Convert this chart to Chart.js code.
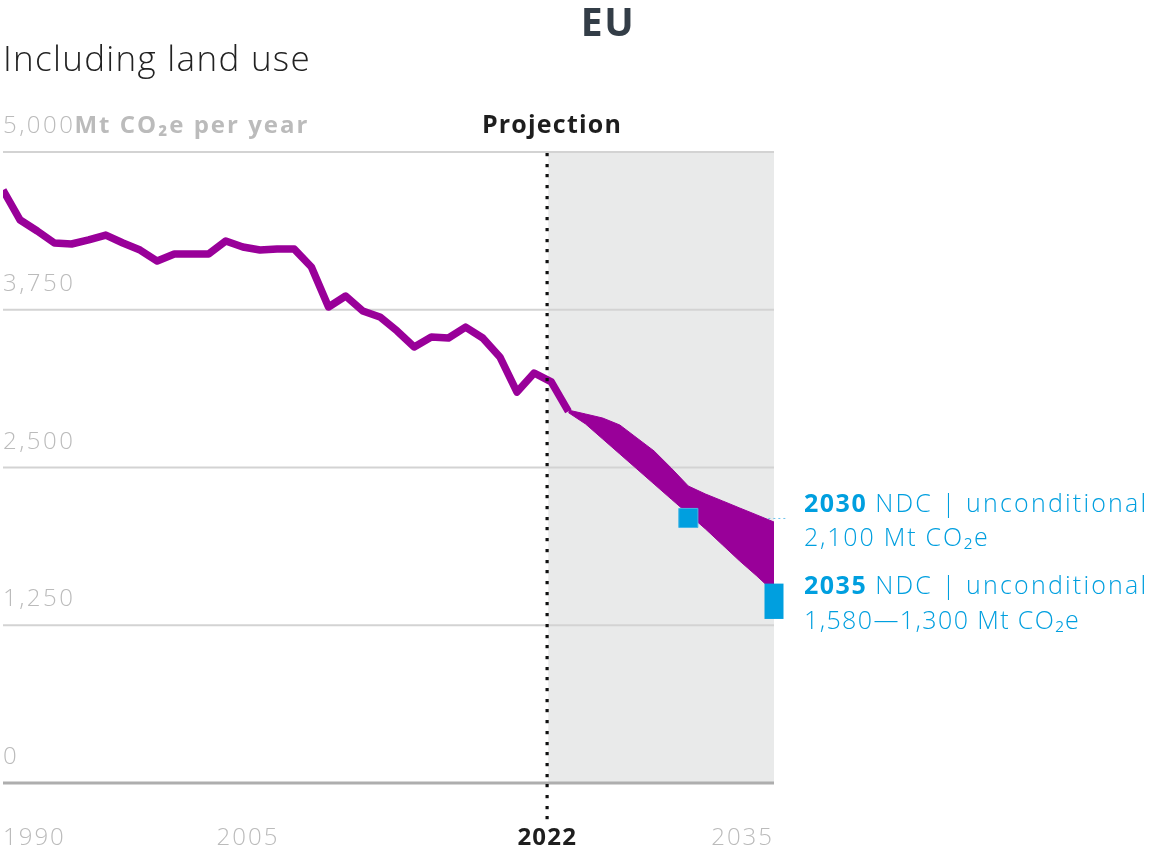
<!DOCTYPE html>
<html><head><meta charset="utf-8">
<script src="https://cdn.jsdelivr.net/npm/chart.js@4"></script>
<style>html,body{margin:0;padding:0;background:#fff}#wrap{width:1155px;height:851px;position:relative}</style>
</head><body><div id="wrap"><canvas id="c" width="1155" height="851"></canvas></div>
<script>
const histYears = [1990,1991,1992,1993,1994,1995,1996,1997,1998,1999,2000,2001,2002,2003,2004,2005,2006,2007,2008,2009,2010,2011,2012,2013,2014,2015,2016,2017,2018,2019,2020,2021,2022,2023];
const histValues = [4699,4461,4374,4279,4271,4303,4342,4279,4223,4136,4192,4192,4192,4295,4247,4223,4231,4231,4089,3772,3859,3740,3693,3582,3455,3534,3526,3613,3526,3376,3098,3249,3178,2945];
const projYears = [2023,2024,2025,2026,2027,2028,2029,2030,2031,2032,2033,2034,2035];
const projUpper = [2955,2924,2892,2837,2734,2631,2496,2353,2290,2235,2179,2124,2068];
const projLower = [2935,2845,2726,2607,2488,2369,2250,2132,2013,1886,1759,1640,1513];
const ndc2030Year = 2030, ndc2030Value = 2100;
const ndc2035Year = 2035, ndc2035Range = [1300, 1580];
const yTicks = [0,1250,2500,3750,5000];
const yTickLabels = ['0','1,250','2,500','3,750','5,000'];
const xTicks = [1990,2005,2022,2035];
const xTickLabels = ['1990','2005','2022','2035'];
const projectionStart = 2022, projectionEnd = 2035;

const PURPLE = '#990099', BLUE = '#009FDF', GRAY_TXT = '#BBBBBB';
const FAM = '"Open Sans", sans-serif';
const LIGHT = '300 24px ' + FAM;
const BOLD = '700 24px ' + FAM;

function run(ctx, txt, x, y, font, color, spacing, align) {
  ctx.font = font; ctx.fillStyle = color;
  if ('letterSpacing' in ctx) ctx.letterSpacing = spacing + 'px';
  let w = ctx.measureText(txt).width;
  let sx = x;
  if (align === 'center') sx = x - w / 2;
  else if (align === 'right') sx = x - w;
  ctx.textAlign = 'left';
  ctx.fillText(txt, sx, y);
  if ('letterSpacing' in ctx) ctx.letterSpacing = '0px';
  return sx + w;
}

const deco = {
  id: 'deco',
  beforeDatasetsDraw(chart) {
    const {ctx, chartArea: a, scales: {x, y}} = chart;
    ctx.save();
    const xs = x.getPixelForValue(projectionStart) - 3, xe = x.getPixelForValue(projectionEnd);
    ctx.fillStyle = '#E9EAEA';
    ctx.fillRect(xs, a.top, xe - xs, a.bottom - a.top);
    yTicks.forEach(v => {
      const py = y.getPixelForValue(v);
      ctx.beginPath();
      ctx.strokeStyle = v === 0 ? '#AEAEAE' : '#D3D3D3';
      ctx.lineWidth = v === 0 ? 3 : 2;
      ctx.moveTo(a.left, py); ctx.lineTo(a.right, py); ctx.stroke();
    });
    const cy = y.getPixelForValue(ndc2030Value);
    ctx.beginPath();
    ctx.setLineDash([2, 3]);
    ctx.strokeStyle = '#6EC3EC';
    ctx.lineWidth = 1;
    ctx.moveTo(x.getPixelForValue(ndc2030Year), cy + 0.5);
    ctx.lineTo(786, cy + 0.5);
    ctx.stroke();
    ctx.restore();
  },
  afterDatasetsDraw(chart) {
    const {ctx, chartArea: a, scales: {x}} = chart;
    ctx.save();
    const px = Math.round(x.getPixelForValue(projectionStart)) - 4;
    ctx.fillStyle = '#111';
    for (let yy = a.top + 1; yy < 818; yy += 10.7) {
      ctx.fillRect(px - 1.5, Math.round(yy), 3.2, 3.2);
    }
    ctx.restore();
  },
  afterDraw(chart) {
    const {ctx, chartArea: a, scales: {x, y}} = chart;
    ctx.save();
    ctx.textBaseline = 'alphabetic';
    run(ctx, 'EU', 608, 36, '700 39px ' + FAM, '#333D47', 1.5, 'center');
    run(ctx, 'Including land use', 3, 71, '300 35px ' + FAM, '#222', 1.3, 'left');
    yTicks.forEach((v, i) => {
      const py = y.getPixelForValue(v) - 19;
      const end = run(ctx, yTickLabels[i], a.left, py, LIGHT, GRAY_TXT, 2.5, 'left');
      if (v === 5000) run(ctx, 'Mt CO₂e per year', end - 1, py, BOLD, GRAY_TXT, 2.0, 'left');
    });
    run(ctx, 'Projection', 552, y.getPixelForValue(5000) - 19, '700 25px ' + FAM, '#1E1E1E', 1.2, 'center');
    xTicks.forEach((v, i) => {
      const px = x.getPixelForValue(v);
      if (v === projectionStart) run(ctx, xTickLabels[i], px - 4, 845, BOLD, '#1E1E1E', 1.2, 'center');
      else {
        const al = i === 0 ? 'left' : (i === xTicks.length - 1 ? 'right' : 'center');
        run(ctx, xTickLabels[i], i === 1 ? px - 12 : px, 845, LIGHT, GRAY_TXT, 2, al);
      }
    });
    const ax = 804;
    const F1 = '700 25px ' + FAM, F2 = '300 25px ' + FAM;
    let e = run(ctx, '2030', ax, 512, F1, BLUE, 1.5, 'left');
    run(ctx, 'NDC | unconditional', e + 8, 512, F2, BLUE, 2.2, 'left');
    run(ctx, '2,100 Mt CO₂e', ax, 546, F2, BLUE, 1.8, 'left');
    e = run(ctx, '2035', ax, 594, F1, BLUE, 1.5, 'left');
    run(ctx, 'NDC | unconditional', e + 8, 594, F2, BLUE, 2.2, 'left');
    run(ctx, '1,580—1,300 Mt CO₂e', ax, 629, F2, BLUE, 1.4, 'left');
    ctx.restore();
  }
};

new Chart(document.getElementById('c'), {
  type: 'line',
  data: {
    datasets: [
      { label: 'Historical', data: histYears.map((yr, i) => ({x: yr, y: histValues[i]})),
        borderColor: PURPLE, borderWidth: 7.5, pointRadius: 0, borderJoinStyle: 'round', borderCapStyle: 'butt', fill: false, order: 3 },
      { label: 'Upper', data: projYears.map((yr, i) => ({x: yr, y: projUpper[i]})),
        borderColor: PURPLE, backgroundColor: PURPLE, borderWidth: 1, pointRadius: 0, fill: '+1', order: 4 },
      { label: 'Lower', data: projYears.map((yr, i) => ({x: yr, y: projLower[i]})),
        borderColor: PURPLE, borderWidth: 1, pointRadius: 0, fill: false, order: 4 },
      { label: 'NDC 2030', data: [{x: ndc2030Year, y: ndc2030Value}],
        showLine: false, pointStyle: 'rect', pointRadius: 13.5, backgroundColor: BLUE, borderColor: '#45B6E6', borderWidth: 1, clip: false, order: 1 },
      { label: 'NDC 2035', data: ndc2035Range.map(v => ({x: ndc2035Year, y: v})),
        borderColor: BLUE, borderWidth: 19, borderCapStyle: 'butt', pointRadius: 0, clip: false, fill: false, order: 1 }
    ]
  },
  options: {
    responsive: false, animation: false, devicePixelRatio: 1,
    layout: { autoPadding: false, padding: { left: 3, right: 381, top: 152, bottom: 68 } },
    plugins: { legend: { display: false }, tooltip: { enabled: false }, title: { display: false } },
    scales: {
      x: { type: 'linear', min: 1990, max: 2035, display: false, offset: false },
      y: { type: 'linear', min: 0, max: 5000, display: false }
    }
  },
  plugins: [deco]
});
</script>
</body></html>
